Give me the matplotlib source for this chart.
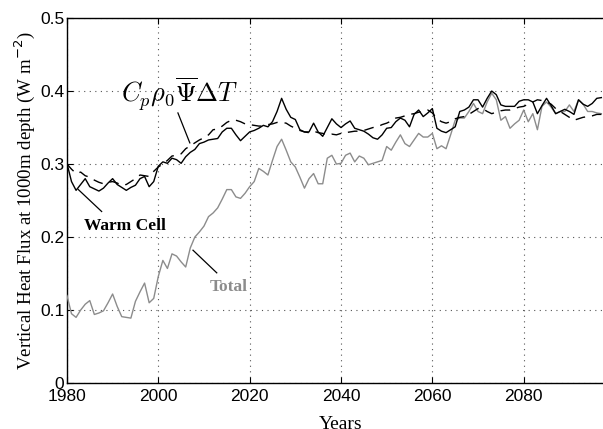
import matplotlib
matplotlib.use('Agg')
import matplotlib.pyplot as plt
import numpy as np

# ── data (annual values) ────────────────────────────────────────────────────
years = np.arange(1980, 2098)

total = [
    0.120, 0.095, 0.090, 0.100, 0.108, 0.113, 0.094, 0.096, 0.099, 0.110,
    0.122, 0.105, 0.091, 0.090, 0.089, 0.112, 0.125, 0.137, 0.110, 0.116,
    0.146, 0.168, 0.157, 0.177, 0.174, 0.166, 0.159, 0.185, 0.200, 0.207,
    0.215, 0.228, 0.233, 0.240, 0.252, 0.265, 0.265, 0.255, 0.253, 0.260,
    0.269, 0.276, 0.294, 0.290, 0.285, 0.305, 0.324, 0.334, 0.319, 0.303,
    0.296, 0.282, 0.267, 0.280, 0.287, 0.273, 0.273, 0.308, 0.312, 0.300,
    0.301, 0.312, 0.315, 0.303, 0.311, 0.308, 0.299, 0.301, 0.303, 0.305,
    0.324, 0.319, 0.330, 0.340, 0.328, 0.324, 0.333, 0.342, 0.337, 0.337,
    0.342, 0.321, 0.325, 0.321, 0.340, 0.360, 0.363, 0.363, 0.372, 0.383,
    0.372, 0.369, 0.385, 0.397, 0.388, 0.360, 0.365, 0.349, 0.355, 0.360,
    0.374, 0.358, 0.369, 0.347, 0.379, 0.385, 0.378, 0.369, 0.372, 0.372,
    0.381, 0.372, 0.388, 0.382, 0.372, 0.372, 0.370, 0.369,
]

warm_cell = [
    0.301, 0.276, 0.264, 0.272, 0.280, 0.269, 0.266, 0.263, 0.267, 0.274,
    0.280, 0.272, 0.268, 0.264, 0.268, 0.271, 0.280, 0.283, 0.269, 0.276,
    0.297, 0.303, 0.301, 0.308, 0.306, 0.301, 0.310, 0.316, 0.320, 0.328,
    0.330, 0.333, 0.334, 0.335, 0.344, 0.349, 0.349, 0.340, 0.332, 0.338,
    0.344, 0.346, 0.349, 0.353, 0.351, 0.358, 0.372, 0.390, 0.375, 0.364,
    0.361, 0.347, 0.344, 0.344, 0.356, 0.344, 0.338, 0.350, 0.362, 0.355,
    0.350, 0.355, 0.359, 0.349, 0.347, 0.345, 0.341, 0.336, 0.334, 0.340,
    0.349, 0.350, 0.358, 0.363, 0.360, 0.351, 0.368, 0.374, 0.365, 0.370,
    0.376, 0.349, 0.345, 0.343, 0.347, 0.351, 0.372, 0.374, 0.378, 0.388,
    0.388, 0.378, 0.390, 0.400, 0.395, 0.381, 0.379, 0.379, 0.379, 0.386,
    0.388, 0.388, 0.385, 0.369, 0.380, 0.390, 0.380, 0.369, 0.372, 0.375,
    0.372, 0.368, 0.388, 0.382, 0.379, 0.383, 0.390, 0.391,
]

psi_dt = [
    0.300, 0.293, 0.287, 0.289, 0.284, 0.282, 0.278, 0.275, 0.273, 0.275,
    0.276, 0.274, 0.271, 0.272, 0.276, 0.280, 0.285, 0.284, 0.283, 0.290,
    0.296, 0.300, 0.305, 0.311, 0.312, 0.314, 0.321, 0.325, 0.329, 0.333,
    0.336, 0.340, 0.347, 0.348, 0.352, 0.357, 0.360, 0.360, 0.358, 0.355,
    0.354, 0.353, 0.352, 0.352, 0.354, 0.355, 0.357, 0.357, 0.356, 0.352,
    0.349, 0.346, 0.344, 0.343, 0.345, 0.343, 0.342, 0.340, 0.341, 0.340,
    0.342, 0.343, 0.344, 0.345, 0.345, 0.346, 0.348, 0.350, 0.351, 0.354,
    0.356, 0.359, 0.363, 0.364, 0.366, 0.368, 0.369, 0.371, 0.372, 0.374,
    0.370, 0.362, 0.358, 0.356, 0.358, 0.362, 0.364, 0.365, 0.368, 0.372,
    0.376, 0.376, 0.372, 0.369, 0.371, 0.373, 0.374, 0.374, 0.376, 0.378,
    0.379, 0.382, 0.385, 0.388, 0.387, 0.385, 0.382, 0.376, 0.372, 0.368,
    0.364, 0.360, 0.362, 0.364, 0.365, 0.366, 0.368, 0.368,
]

xticks = [1980, 2000, 2020, 2040, 2060, 2080]
yticks = [0, 0.1, 0.2, 0.3, 0.4, 0.5]
ytick_labels = ['0', '0.1', '0.2', '0.3', '0.4', '0.5']

# ── figure ──────────────────────────────────────────────────────────────────
fig = plt.figure(figsize=(6.03, 4.29), dpi=100)
ax = fig.add_axes([0.111, 0.107, 0.909, 0.851])

C_GRAY = '#8c8c8c'
ax.plot(years, total, color=C_GRAY, lw=1.0, zorder=3)
ax.plot(years, psi_dt, color='black', lw=1.0, dashes=(7, 5), zorder=3)
ax.plot(years, warm_cell, color='black', lw=1.0, zorder=4)

ax.set_xlim(1980, 2100)
ax.set_ylim(0, 0.5)
ax.set_xticks(xticks)
ax.set_yticks(yticks)
ax.set_yticklabels(ytick_labels)

ax.grid(True, linestyle=(0, (1, 4)), color='#555555', lw=0.8)
ax.tick_params(direction='in', top=True, right=True, length=4,
               labelsize=12.5, pad=2)
ax.tick_params(axis='x', pad=4)
for lab in ax.get_xticklabels() + ax.get_yticklabels():
    lab.set_family('Liberation Sans')
for s in ax.spines.values():
    s.set_linewidth(1.0)

ax.set_xlabel('Years', family='Liberation Serif', fontsize=14, labelpad=9)
ax.set_ylabel(r'Vertical Heat Flux at 1000m depth (W m$^{-2}$)',
              family='Liberation Serif', fontsize=13.6, labelpad=2)

# ── annotations ─────────────────────────────────────────────────────────────
ax.text(2004.7, 0.395, r'$C_p\rho_0\overline{\Psi}\Delta T$',
        fontsize=19, ha='center', va='center', math_fontfamily='cm')
ax.plot([2004.3, 2006.9], [0.370, 0.329], color='black', lw=0.9)

ax.text(1992.7, 0.215, 'Warm Cell', family='Liberation Serif',
        fontweight='bold', fontsize=12.5, ha='center', va='center')
ax.plot([1982.5, 1987.6], [0.265, 0.235], color='black', lw=0.9)

ax.text(2015.4, 0.132, 'Total', family='Liberation Serif',
        fontweight='bold', fontsize=12.5, ha='center', va='center',
        color=C_GRAY)
ax.plot([2007.6, 2012.8], [0.182, 0.151], color='black', lw=0.9)

fig.savefig('out.png', dpi=100, facecolor='white')
